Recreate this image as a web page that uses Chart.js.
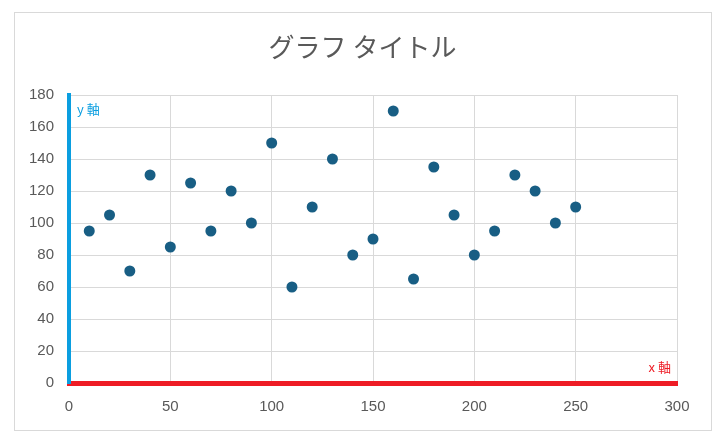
<!DOCTYPE html>
<html>
<head>
<meta charset="utf-8">
<script src="https://cdn.jsdelivr.net/npm/chart.js@4"></script>
<style>
  html, body { margin: 0; padding: 0; background: #fff; }
  #wrap { position: relative; width: 721px; height: 446px; }
</style>
</head>
<body>
<div id="wrap"><canvas id="scatterChart" width="721" height="446"></canvas></div>
<script>
// Scatter values
const xValues = [10, 20, 30, 40, 50, 60, 70, 80, 90, 100, 110, 120, 130, 140, 150, 160, 170, 180, 190, 200, 210, 220, 230, 240, 250];
const yValues = [95, 105, 70, 130, 85, 125, 95, 120, 100, 150, 60, 110, 140, 80, 90, 170, 65, 135, 105, 80, 95, 130, 120, 100, 110];

const chartTitle = 'グラフ タイトル';
const xAxisLabel = 'x 軸';
const yAxisLabel = 'y 軸';

const tickFont = { family: "'Liberation Sans', Arial, sans-serif", size: 15 };
const gridColor = '#d9d9d9';

// Outer frame, centred title and axis captions
const framePlugin = {
    id: 'frame',
    beforeDraw(chart) {
        const ctx = chart.ctx;
        ctx.save();
        ctx.strokeStyle = '#d9d9d9';
        ctx.lineWidth = 1;
        ctx.strokeRect(14.5, 12.5, 697, 418);
        ctx.restore();
    },
    afterDraw(chart) {
        const ctx = chart.ctx;
        const area = chart.chartArea;
        ctx.save();
        // title, centred on the frame (not on the plot area)
        ctx.font = "26px 'Noto Sans CJK JP', sans-serif";
        ctx.fillStyle = '#595959';
        ctx.textAlign = 'center';
        ctx.textBaseline = 'middle';
        ctx.fillText(chartTitle, 362.5, 47);

        ctx.font = "13px 'Noto Sans CJK JP', sans-serif";
        ctx.fillStyle = '#0a9ee0';
        ctx.textAlign = 'left';
        ctx.fillText(yAxisLabel, area.left + 8, area.top + 14);
        ctx.fillStyle = '#ee1c25';
        ctx.textAlign = 'right';
        ctx.fillText(xAxisLabel, area.right - 6, area.bottom - 16);
        ctx.restore();
    }
};

const points = xValues.map((x, i) => ({ x: x, y: yValues[i] }));

new Chart(document.getElementById('scatterChart'), {
    type: 'scatter',
    data: {
        datasets: [{
            data: points,
            backgroundColor: '#185e84',
            borderWidth: 0,
            pointRadius: 5.5,
            pointHoverRadius: 5.5
        }]
    },
    options: {
        responsive: false,
        animation: false,
        layout: { padding: { top: 95, right: 44, bottom: 0, left: 0 } },
        plugins: {
            legend: { display: false },
            tooltip: { enabled: false },
            title: { display: false }
        },
        scales: {
            x: {
                type: 'linear',
                min: 0,
                max: 300,
                ticks: { stepSize: 50, color: '#595959', font: tickFont, padding: 15 },
                grid: { color: gridColor, drawTicks: false },
                border: { color: '#ee1c25', width: 5 },
                afterFit(scale) { scale.height = 63; }
            },
            y: {
                min: 0,
                max: 180,
                ticks: { stepSize: 20, color: '#595959', font: tickFont, padding: 15 },
                grid: { color: gridColor, drawTicks: false },
                border: { color: '#0a9ee0', width: 4 },
                afterFit(scale) { scale.width = 69; }
            }
        }
    },
    plugins: [framePlugin]
});
</script>
</body>
</html>
